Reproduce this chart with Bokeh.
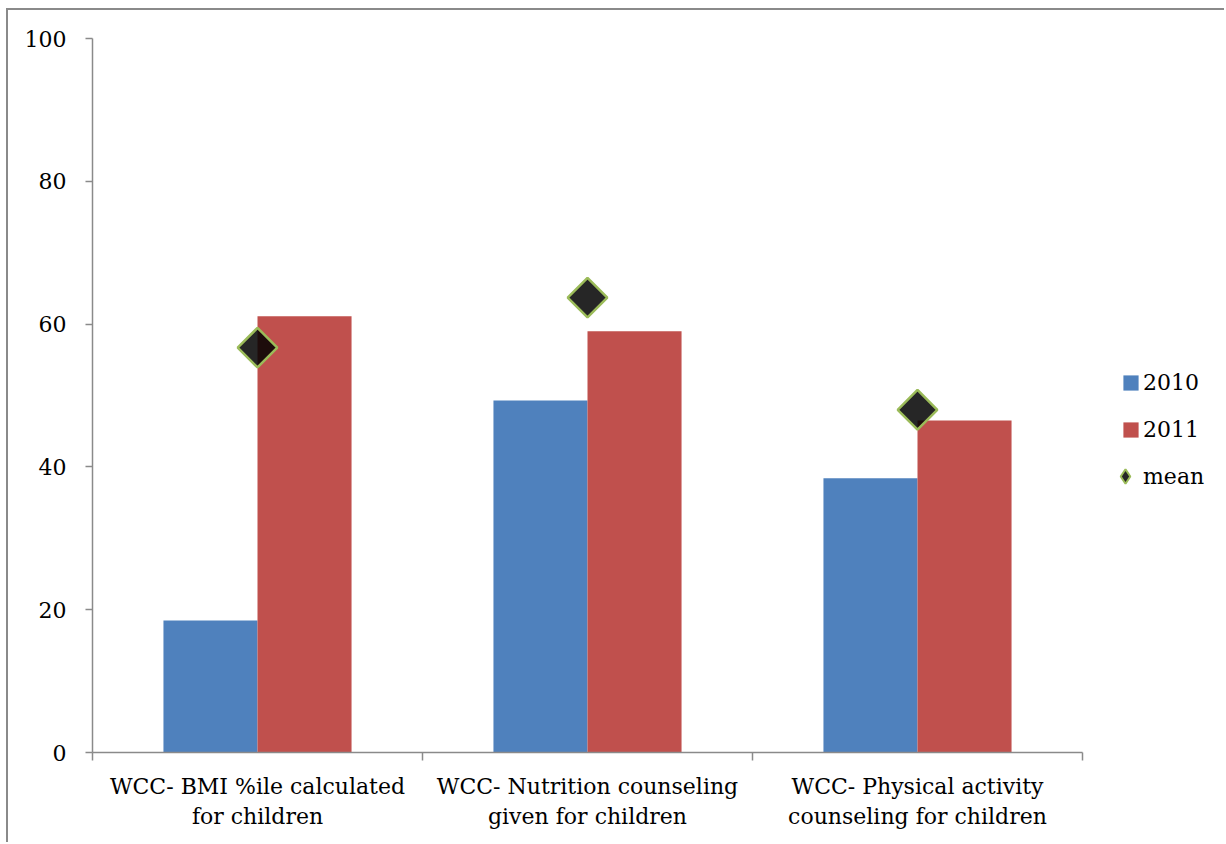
import math

from bokeh.embed import file_html
from bokeh.models import (ColumnDataSource, FixedTicker, Legend, LegendItem,
                          Range1d)
from bokeh.plotting import figure
from bokeh.resources import INLINE

# Data
categories = [
    "WCC- BMI %ile calculated\nfor children",
    "WCC- Nutrition counseling\ngiven for children",
    "WCC- Physical activity\ncounseling for children",
]
rate_2010 = [18.5, 49.3, 38.4]
rate_2011 = [61.1, 59.0, 46.5]
rate_mean = [56.7, 63.7, 48.0]
y_ticks = [0, 20, 40, 60, 80, 100]

FONT = "DejaVu Serif"
FONT_SIZE = "22px"
AXIS_GREY = "#8a8a8a"
MEAN_FILL = "black"
MEAN_LINE = "#9BBB59"

n_cat = len(categories)
centers = [i + 0.5 for i in range(n_cat)]
bar_w = 0.285

src = ColumnDataSource(dict(
    x10=[c - bar_w / 2 for c in centers],
    x11=[c + bar_w / 2 for c in centers],
    xc=centers,
    y10=rate_2010,
    y11=rate_2011,
    ym=rate_mean,
))

# The plotting frame runs to the right edge so the legend can sit inside it;
# the category axis itself is bounded to the three categories.
canvas_w, canvas_h = 1218, 834
left_pad, right_pad = 84, 0
cat_px = 330
x_end = (canvas_w - left_pad - right_pad) / cat_px

p = figure(
    width=canvas_w, height=canvas_h,
    x_range=Range1d(0, x_end), y_range=Range1d(0, 100),
    output_backend="svg", toolbar_location=None,
    min_border_left=left_pad, min_border_right=right_pad,
    min_border_top=28, min_border_bottom=92,
)
p.styles = {
    "margin-left": "6px", "margin-top": "8px",
    "border-left": f"2px solid {AXIS_GREY}",
    "border-top": f"2px solid {AXIS_GREY}",
}
p.outline_line_color = None
p.xgrid.visible = False
p.ygrid.visible = False
p.background_fill_color = "white"
p.border_fill_color = "white"

r10 = p.vbar(x="x10", top="y10", width=bar_w, bottom=0, source=src,
             fill_color="#4F81BD", line_color=None)
r11 = p.vbar(x="x11", top="y11", width=bar_w, bottom=0, source=src,
             fill_color="#C0504D", line_color=None)
# mean markers: squares turned 45 degrees
p.scatter(x="xc", y="ym", source=src, marker="square", size=28,
          angle=math.pi / 4, fill_color=MEAN_FILL, fill_alpha=0.85,
          line_color=MEAN_LINE, line_width=2.5)
# legend key for the mean (legend keys are drawn unrotated, so use a diamond);
# the renderer itself stays hidden in the plot area
rm_key = p.scatter(x="xc", y="ym", source=src, marker="diamond", size=28,
                   fill_color=MEAN_FILL, fill_alpha=0.85,
                   line_color=MEAN_LINE, line_width=2, visible=False)

# x axis: labels at category centres, ticks at category boundaries
xa = p.xaxis[0]
xa.bounds = (0, n_cat)
xa.ticker = FixedTicker(ticks=centers, minor_ticks=list(range(n_cat + 1)))
xa.major_label_overrides = {c: lab for c, lab in zip(centers, categories)}
xa.major_tick_line_color = None
xa.major_tick_out = 0
xa.major_tick_in = 0
xa.minor_tick_in = 0
xa.minor_tick_out = 8
xa.minor_tick_line_color = AXIS_GREY
xa.minor_tick_line_width = 1.5
xa.axis_line_color = AXIS_GREY
xa.axis_line_width = 1.5
xa.major_label_text_font = FONT
xa.major_label_text_font_size = FONT_SIZE
xa.major_label_text_color = "black"
xa.major_label_standoff = 13
xa.major_label_text_line_height = 1.22

ya = p.yaxis[0]
ya.ticker = FixedTicker(ticks=y_ticks, minor_ticks=[])
ya.major_tick_in = 0
ya.major_tick_out = 7
ya.major_tick_line_color = AXIS_GREY
ya.major_tick_line_width = 1.5
ya.axis_line_color = AXIS_GREY
ya.axis_line_width = 1.5
ya.major_label_text_font = FONT
ya.major_label_text_font_size = FONT_SIZE
ya.major_label_text_color = "black"
ya.major_label_standoff = 19

# Legends: bars and the mean marker use different glyph sizes
leg_bars = Legend(
    items=[LegendItem(label="2010", renderers=[r10]),
           LegendItem(label="2011", renderers=[r11])],
    location=(1029, 308), glyph_width=19, glyph_height=19,
    label_height=30, spacing=17, label_standoff=3, padding=0, margin=0,
    border_line_color=None, background_fill_alpha=0,
    label_text_font=FONT, label_text_font_size=FONT_SIZE,
    label_text_color="black",
)
leg_mean = Legend(
    items=[LegendItem(label="mean", renderers=[rm_key])],
    location=(1015, 258), glyph_width=36, glyph_height=36,
    label_height=30, spacing=0, label_standoff=0, padding=0, margin=0,
    border_line_color=None, background_fill_alpha=0,
    inactive_fill_alpha=0,
    label_text_font=FONT, label_text_font_size=FONT_SIZE,
    label_text_color="black",
)
p.add_layout(leg_bars)
p.add_layout(leg_mean)

open("out.html", "w").write(file_html(p, INLINE))
